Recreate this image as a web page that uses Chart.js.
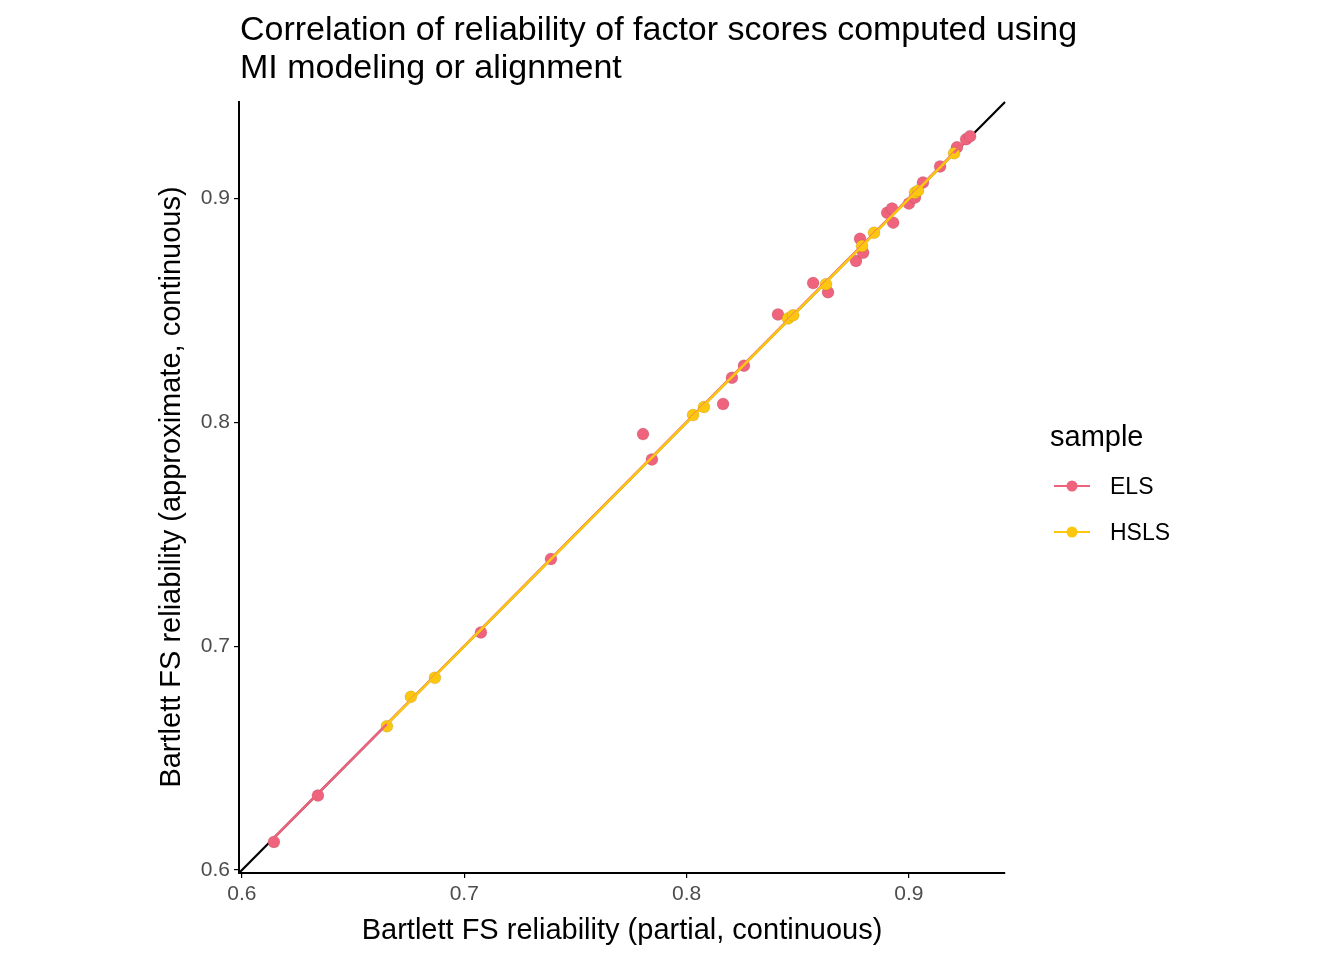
<!DOCTYPE html>
<html><head><meta charset="utf-8">
<script src="https://cdn.jsdelivr.net/npm/chart.js@4"></script>
<style>body{margin:0;background:#fff}#w{width:1344px;height:960px;position:relative}</style>
</head><body><div id="w"><canvas id="c"></canvas></div>
<script>
const elsX=[0.6144,0.6342,0.7075,0.7390,0.7804,0.7844,0.8164,0.8204,0.8258,0.8411,0.8569,0.8636,0.8762,0.8780,0.8794,0.8902,0.8924,0.8929,0.9000,0.9027,0.9063,0.9140,0.9216,0.9257,0.9275];
const elsY=[0.6126,0.6333,0.7062,0.7390,0.7948,0.7835,0.8083,0.8200,0.8254,0.8483,0.8623,0.8582,0.8722,0.8821,0.8758,0.8937,0.8956,0.8893,0.8978,0.9005,0.9072,0.9144,0.9230,0.9266,0.9279];
const hslsX=[0.6652,0.6760,0.6868,0.8029,0.8078,0.8456,0.8479,0.8627,0.8789,0.8843,0.9027,0.9041,0.9203];
const hslsY=[0.6643,0.6774,0.6859,0.8033,0.8069,0.8465,0.8479,0.8618,0.8789,0.8848,0.9027,0.9036,0.9203];
const ticks=[0.6,0.7,0.8,0.9];
const axMin=0.5987, axMax=0.9432;
const pts=(xs,ys)=>xs.map((x,i)=>({x,y:ys[i]}));
function fit(xs,ys){const n=xs.length,mx=xs.reduce((a,b)=>a+b)/n,my=ys.reduce((a,b)=>a+b)/n;let sxy=0,sxx=0;xs.forEach((x,i)=>{sxy+=(x-mx)*(ys[i]-my);sxx+=(x-mx)**2});const b=sxy/sxx,a=my-b*mx;const lo=Math.min(...xs),hi=Math.max(...xs);return [{x:lo,y:a+b*lo},{x:hi,y:a+b*hi}];}
const RED='#f0637c',YEL='#fcc70e';
const F='"Liberation Sans", Arial';
const overlay={id:'ov',afterDraw(ch){const c=ch.ctx;c.save();c.fillStyle='#000';c.font='34px '+F;c.textBaseline='alphabetic';
c.fillText('Correlation of reliability of factor scores computed using',240,40);c.fillText('MI modeling or alignment',240,78);
c.font='29px '+F;c.textAlign='center';c.fillText('Bartlett FS reliability (partial, continuous)',622,939);
c.save();c.translate(180,487);c.rotate(-Math.PI/2);c.fillText('Bartlett FS reliability (approximate, continuous)',0,0);c.restore();
c.textAlign='left';c.font='29px '+F;c.fillText('sample',1050,446);
c.font='23px '+F;
[[RED,'ELS',486],[YEL,'HSLS',532]].forEach(([col,t,y])=>{c.strokeStyle=col;c.lineWidth=2;c.beginPath();c.moveTo(1054,y);c.lineTo(1090,y);c.stroke();c.fillStyle=col;c.beginPath();c.arc(1072,y,5.5,0,Math.PI*2);c.fill();c.fillStyle='#000';c.fillText(t,1110,y+8);});
c.restore();}};
const sc=()=>({type:'linear',min:axMin,max:axMax,afterBuildTicks:s=>{s.ticks=ticks.map(v=>({value:v}))},
ticks:{color:'#4d4d4d',font:{size:21,family:F},callback:v=>v.toFixed(1),padding:4},
grid:{display:true,drawOnChartArea:false,drawTicks:true,tickLength:5,color:'#000',lineWidth:1.2},
border:{display:true,color:'#000',width:2}});
const xs=sc();xs.afterFit=s=>{s.height=87};
const ys=sc();ys.afterFit=s=>{s.width=239};
new Chart(document.getElementById('c'),{type:'scatter',data:{datasets:[
{data:pts(elsX,elsY),backgroundColor:RED,pointRadius:6,pointHoverRadius:6,order:3},
{data:pts(hslsX,hslsY),backgroundColor:YEL,pointRadius:6,pointHoverRadius:6,order:2},
{type:'line',data:[{x:axMin,y:axMin},{x:axMax,y:axMax}],borderColor:'#000',borderWidth:2.2,pointRadius:0,order:4},
{type:'line',data:fit(elsX,elsY),borderColor:RED,borderWidth:2.5,pointRadius:0,order:1},
{type:'line',data:fit(hslsX,hslsY),borderColor:YEL,borderWidth:2.5,pointRadius:0,order:0}
]},options:{responsive:true,maintainAspectRatio:false,animation:false,clip:false,
layout:{padding:{top:102,right:339,bottom:0,left:0}},
plugins:{legend:{display:false},tooltip:{enabled:false}},scales:{x:xs,y:ys}},plugins:[overlay]});
</script></body></html>
